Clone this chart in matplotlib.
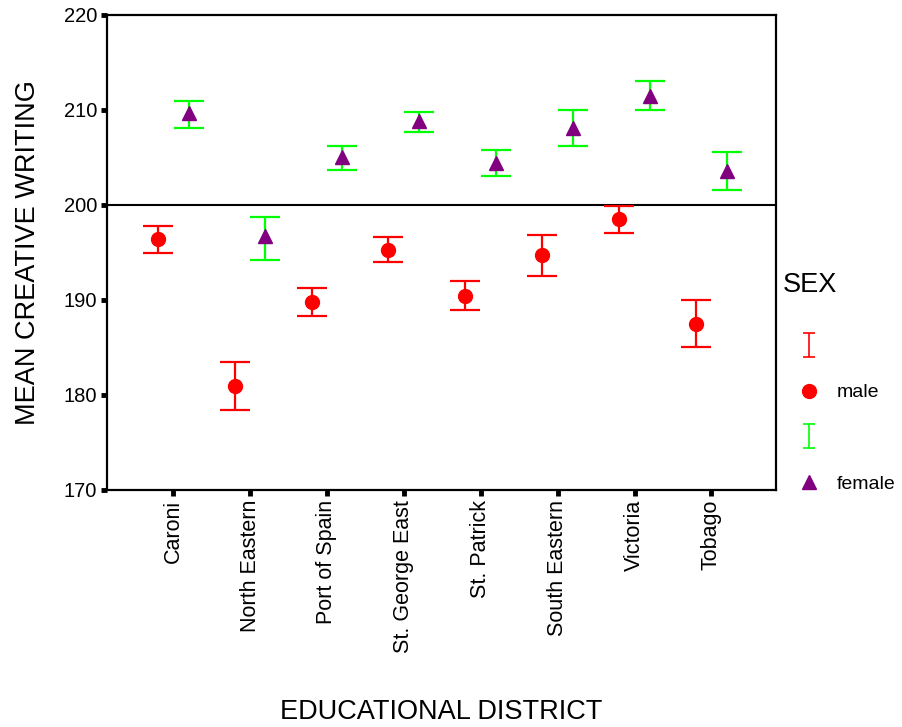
import numpy as np
import matplotlib.pyplot as plt
from matplotlib.legend_handler import HandlerErrorbar

plt.rcParams['font.family'] = ['Liberation Sans', 'DejaVu Sans']

districts = ['Caroni', 'North Eastern', 'Port of Spain', 'St. George East',
             'St. Patrick', 'South Eastern', 'Victoria', 'Tobago']

male_mean = [196.4, 180.9, 189.8, 195.3, 190.4, 194.7, 198.5, 187.5]
male_lo = [194.9, 178.4, 188.3, 194.0, 188.9, 192.5, 197.0, 185.0]
male_hi = [197.8, 183.5, 191.3, 196.6, 192.0, 196.8, 199.9, 190.0]

female_mean = [209.7, 196.7, 205.1, 208.8, 204.4, 208.1, 211.5, 203.6]
female_lo = [208.1, 194.2, 203.7, 207.7, 203.1, 206.2, 210.0, 201.6]
female_hi = [210.9, 198.7, 206.2, 209.8, 205.8, 210.0, 213.0, 205.6]

RED = '#ff0000'
GREEN = '#00ff00'
PURPLE = '#800080'

fig = plt.figure(figsize=(9.03, 7.27), dpi=100)
ax = fig.add_axes([0.1185, 0.326, 0.7409, 0.6534])

x = np.arange(len(districts))
m = np.array(male_mean)
f = np.array(female_mean)
m_err = [m - np.array(male_lo), np.array(male_hi) - m]
f_err = [f - np.array(female_lo), np.array(female_hi) - f]

ax.axhline(200, color='black', lw=1.5, zorder=1)

ax.errorbar(x - 0.2, m, yerr=m_err, fmt='none', ecolor=RED,
            elinewidth=1.6, capsize=11, capthick=1.6, zorder=2)
ax.plot(x - 0.2, m, 'o', color=RED, ms=10, zorder=3)
ax.errorbar(x + 0.2, f, yerr=f_err, fmt='none', ecolor=GREEN,
            elinewidth=1.6, capsize=11, capthick=1.6, zorder=2)
ax.plot(x + 0.2, f, '^', color=PURPLE, ms=10, zorder=3)

ax.set_xlim(-0.86, 7.84)
ax.set_ylim(170, 220)
ax.set_yticks(np.arange(170, 221, 10))
ax.set_xticks(x)
ax.set_xticklabels(districts, rotation=90, fontsize=15.5)
ax.tick_params(axis='y', labelsize=14.5)
ax.tick_params(direction='out', length=4, width=3.5, pad=3)

for s in ax.spines.values():
    s.set_linewidth(1.6)

ax.set_ylabel('MEAN CREATIVE WRITING', fontsize=19.5)
ax.yaxis.set_label_coords(-0.098, 0.5)
ax.set_xlabel('EDUCATIONAL DISTRICT', fontsize=19.5, va='center')
ax.xaxis.set_label_coords(0.5, -0.468)

# legend proxies: small I-beams and the point markers
eb_m = ax.errorbar([np.nan], [np.nan], yerr=[1], fmt='none', ecolor=RED,
                   elinewidth=1.2, capsize=4.5, capthick=1.2)
eb_f = ax.errorbar([np.nan], [np.nan], yerr=[1], fmt='none', ecolor=GREEN,
                   elinewidth=1.2, capsize=4.5, capthick=1.2)
pt_m, = ax.plot([], [], 'o', color=RED, ms=10)
pt_f, = ax.plot([], [], '^', color=PURPLE, ms=10)

leg = ax.legend([eb_m, pt_m, eb_f, pt_f], ['', 'male', '', 'female'],
                title='SEX', title_fontsize=19.5, fontsize=14,
                frameon=False, loc='upper left',
                bbox_to_anchor=(773 / 903, 1 - 262 / 727),
                bbox_transform=fig.transFigure,
                labelspacing=1.45, handlelength=2.7, handletextpad=0.1,
                borderpad=0, alignment='left',
                handler_map={type(eb_m): HandlerErrorbar(yerr_size=0.62)})
leg._legend_box.sep = 29

fig.savefig('out.png', dpi=100)
